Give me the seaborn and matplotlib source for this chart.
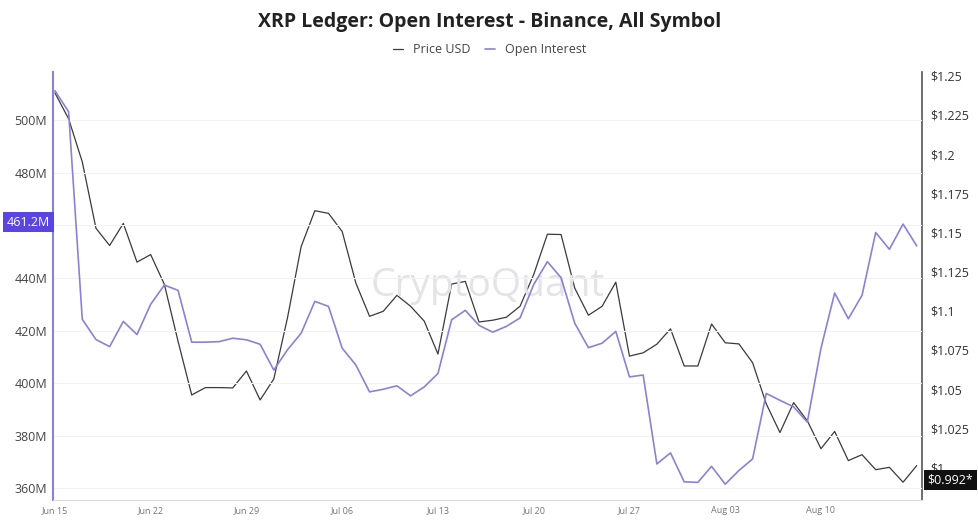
import numpy as np
import pandas as pd
import seaborn as sns
import matplotlib.pyplot as plt
from matplotlib.lines import Line2D

# daily values, Jun 15 .. Aug 17
open_interest = [511.2, 503.2, 424.3, 416.6, 413.9, 423.5, 418.5, 430.0, 437.3, 435.3,
                 415.6, 415.6, 415.8, 417.1, 416.5, 414.8, 405.0, 412.7, 419.0, 431.1,
                 429.2, 413.3, 406.9, 396.7, 397.7, 399.0, 395.2, 398.6, 403.7, 424.1,
                 427.7, 422.0, 419.4, 421.6, 424.8, 437.5, 446.2, 440.1, 422.8, 413.5,
                 415.2, 419.7, 402.4, 403.1, 369.3, 373.5, 362.5, 362.3, 368.4, 361.6,
                 366.8, 371.2, 396.1, 393.5, 391.0, 385.2, 413.3, 434.3, 424.5, 433.4,
                 457.3, 450.9, 460.5, 452.2]
price_usd = [1.239, 1.2225, 1.195, 1.1526, 1.1416, 1.1557, 1.131, 1.1358, 1.1168, 1.0805,
             1.0462, 1.0509, 1.0509, 1.0507, 1.0615, 1.043, 1.0564, 1.0954, 1.1409, 1.1638,
             1.1621, 1.1505, 1.1176, 1.0964, 1.0996, 1.1098, 1.1028, 1.0933, 1.0723, 1.117,
             1.1187, 1.0928, 1.0939, 1.0958, 1.1028, 1.1231, 1.1488, 1.1486, 1.1144, 1.0971,
             1.1028, 1.1182, 1.071, 1.0731, 1.0786, 1.0884, 1.0647, 1.0647, 1.0915, 1.0795,
             1.0788, 1.0668, 1.0405, 1.0222, 1.0413, 1.0297, 1.0119, 1.0229, 1.0043, 1.0081,
             0.9985, 1.0, 0.9905, 1.0011]
tick_labels = ['Jun 15', 'Jun 22', 'Jun 29', 'Jul 06', 'Jul 13', 'Jul 20', 'Jul 27', 'Aug 03', 'Aug 10']
oi_ticks = [360, 380, 400, 420, 440, 460, 480, 500]
price_ticks = [1, 1.025, 1.05, 1.075, 1.1, 1.125, 1.15, 1.175, 1.2, 1.225, 1.25]
price_tick_labels = ['$1', '$1.025', '$1.05', '$1.075', '$1.1', '$1.125', '$1.15',
                     '$1.175', '$1.2', '$1.225', '$1.25']

df = pd.DataFrame({'day': np.arange(len(price_usd)), 'oi': open_interest, 'price': price_usd})

sns.set_style('white')
plt.rcParams['font.family'] = ['Open Sans', 'DejaVu Sans']
purple = '#8a82d4'

fig = plt.figure(figsize=(9.79, 5.2), dpi=100)
ax = fig.add_axes([0.054, 0.038, 0.888, 0.824])
ax2 = ax.twinx()

sns.lineplot(data=df, x='day', y='oi', ax=ax, color=purple, linewidth=1.2)
sns.lineplot(data=df, x='day', y='price', ax=ax2, color='#3a3a3a', linewidth=0.9)
ax.set_zorder(ax2.get_zorder() + 1)
ax.patch.set_visible(False)

ax.set_xlim(-0.15, 63.4)
ax.set_ylim(355.5, 518.4)
ax2.set_ylim(0.979, 1.2525)

ax.set_yticks(oi_ticks)
# the 460M label sits under the highlighted 461.2M box
ax.set_yticklabels(['' if v == 460 else f'{v}M' for v in oi_ticks], color='#444444', fontsize=9)
ax2.set_yticks(price_ticks)
ax2.set_yticklabels(price_tick_labels, color='#333333', fontsize=9)
ax.set_xticks(np.arange(0, 63, 7))
ax.set_xticklabels(tick_labels, fontsize=6.5, color='#777777')
ax.tick_params(axis='both', length=0, pad=4)
ax2.tick_params(axis='y', length=0, pad=6)
ax.set_xlabel('')
ax.set_ylabel('')
ax2.set_ylabel('')
ax.grid(axis='y', color='#f2f2f2', linewidth=0.8)

for s in ['top', 'right']:
    ax.spines[s].set_visible(False)
    ax2.spines[s].set_visible(False)
ax2.spines['left'].set_visible(False)
ax2.spines['bottom'].set_visible(False)
ax.spines['left'].set_color(purple)
ax.spines['left'].set_linewidth(1.5)
ax.spines['bottom'].set_color('#dddddd')
ax2.spines['right'].set_visible(True)
ax2.spines['right'].set_color('#555555')
ax2.spines['right'].set_linewidth(1.2)

ax.text(0.5, 0.5, 'CryptoQuant', transform=ax.transAxes, ha='center', va='center',
        fontsize=28, color='#e3e3e8', zorder=0)

ax.text(-0.003, 461.2, '461.2M', transform=ax.get_yaxis_transform(), ha='right', va='center',
        fontsize=9, color='white', bbox=dict(boxstyle='square,pad=0.3', fc='#5b45e0', ec='none'))
ax2.text(1.006, 0.992, '$0.992*', transform=ax2.get_yaxis_transform(), ha='left', va='center',
         fontsize=9, color='white', bbox=dict(boxstyle='square,pad=0.3', fc='#111111', ec='none'))

fig.text(0.5, 0.957, 'XRP Ledger: Open Interest - Binance, All Symbol', ha='center', va='center',
         fontsize=14, fontweight='bold', color='#222222')
handles = [Line2D([0], [0], color='#3a3a3a', lw=0.9), Line2D([0], [0], color=purple, lw=1.2)]
fig.legend(handles, ['Price USD', 'Open Interest'], loc='center', bbox_to_anchor=(0.5, 0.905),
           ncol=2, frameon=False, fontsize=9, handlelength=0.8, columnspacing=1.2,
           labelcolor='#444444')

fig.savefig('out.png', dpi=100)
